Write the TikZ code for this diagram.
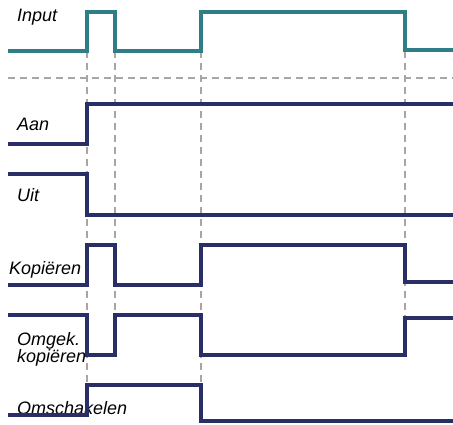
\documentclass[tikz,border=0pt]{standalone}
\usepackage{fontspec}
\setmainfont{Liberation Sans}
\definecolor{tealline}{RGB}{46,125,135}
\definecolor{navyline}{RGB}{42,46,102}
\definecolor{guidegray}{RGB}{170,165,160}

\begin{document}
\begin{tikzpicture}
  [x=1pt, y=-1pt,
   signame/.style={anchor=base west, inner sep=0pt, align=left,
     font=\itshape\fontsize{18}{17}\selectfont},
   insig/.style={draw=tealline, line width=3.8pt},
   outsig/.style={draw=navyline, line width=4pt},
   guide/.style={draw=guidegray, line width=1.5pt, dash pattern=on 7pt off 5pt}]
  \useasboundingbox (0, 0) rectangle (453, 425);
  % dashed guides
  \draw [guide] (8, 78) -- (453, 78);
  \draw [guide] (87, 51) -- (87, 385);
  \draw [guide] (115, 51) -- (115, 315);
  \draw [guide] (201, 51) -- (201, 385);
  \draw [guide] (405, 51) -- (405, 318);
  % labels
  \node (input) [signame] at (17, 22) {Input};
  \node (aan) [signame] at (17, 131) {Aan};
  \node (uit) [signame] at (17, 202) {Uit};
  \node (kop) [signame] at (9, 275) {Kopiëren};
  \node (omgek) [signame] at (17, 362) {Omgek.\\kopiëren};
  \node (omsch) [signame] at (17, 414) {Omschakelen};
  % signals
  \draw [insig] (8, 51) -- (87, 51) -- (87, 12) -- (115, 12) -- (115, 51)
    -- (201, 51) -- (201, 12) -- (405, 12) -- (405, 50) -- (453, 50);
  \draw [outsig] (8, 144) -- (87, 144) -- (87, 104) -- (453, 104);
  \draw [outsig] (8, 174) -- (87, 174) -- (87, 215) -- (453, 215);
  \draw [outsig] (8, 285) -- (87, 285) -- (87, 245) -- (115, 245) -- (115, 285)
    -- (201, 285) -- (201, 245) -- (405, 245) -- (405, 282) -- (453, 282);
  \draw [outsig] (8, 315) -- (87, 315) -- (87, 355) -- (115, 355) -- (115, 315)
    -- (201, 315) -- (201, 355) -- (405, 355) -- (405, 318) -- (453, 318);
  \draw [outsig] (8, 415) -- (87, 415) -- (87, 385) -- (201, 385) -- (201, 421)
    -- (453, 421);
\end{tikzpicture}
\end{document}
